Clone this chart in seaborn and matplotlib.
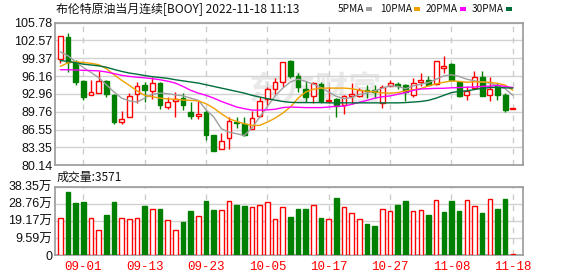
import numpy as np
import pandas as pd
import matplotlib
matplotlib.use("Agg")
import matplotlib.pyplot as plt
from matplotlib.patches import Rectangle
import seaborn as sns

# ---------------- data ----------------
dates = pd.bdate_range("2022-08-29", "2022-11-18").strftime("%m-%d").tolist()

opens = [99.22, 103.1, 98.62, 95.35, 92.84, 93.2, 95.35, 92.84, 87.83, 88.78,
         92.9, 94.57, 93.56, 94.87, 90.69, 91.65, 92.18, 89.68, 88.96, 89.68,
         85.51, 83.0, 85.03, 87.89, 87.6, 86.58, 89.08, 92.06, 93.85, 95.05,
         98.92, 96.24, 93.85, 92.66, 94.75, 91.71, 92.06, 90.99, 92.66, 92.66,
         93.68, 93.68, 91.35, 94.45, 94.75, 94.57, 92.84, 95.05, 95.52, 94.69,
         97.61, 98.33, 95.17, 92.78, 93.97, 95.94, 92.78, 94.45, 92.84, 90.28]
highs = [103.4, 103.81, 99.1, 95.52, 95.52, 97.13, 95.52, 92.96, 89.8, 93.14,
         95.17, 95.17, 95.94, 95.05, 92.36, 93.38, 93.14, 91.47, 91.77, 89.98,
         85.63, 85.98, 88.78, 88.78, 88.78, 89.8, 92.36, 94.15, 95.76, 98.74,
         99.04, 96.72, 95.35, 95.17, 95.17, 94.15, 92.18, 92.78, 94.87, 93.97,
         94.57, 94.57, 94.57, 95.46, 95.17, 94.75, 95.76, 96.66, 96.24, 98.92,
         99.7, 98.45, 95.35, 94.45, 97.02, 97.13, 95.94, 94.93, 93.14, 90.46]
lows = [98.5, 96.96, 94.57, 91.95, 92.84, 93.2, 92.36, 87.6, 87.47, 88.78,
        91.35, 91.47, 92.06, 90.16, 90.16, 88.78, 89.98, 88.49, 88.49, 84.61,
        82.64, 83.0, 83.0, 86.82, 85.39, 86.58, 88.9, 90.99, 92.96, 94.27,
        95.76, 93.38, 91.47, 91.35, 91.35, 91.35, 88.9, 89.38, 91.17, 92.36,
        92.18, 92.18, 90.4, 94.45, 93.85, 91.65, 92.48, 94.45, 94.57, 94.57,
        96.66, 95.35, 92.36, 91.95, 93.97, 92.54, 91.65, 91.95, 89.68, 90.16]
closes = [103.28, 98.74, 95.05, 92.36, 93.38, 95.35, 92.96, 87.89, 88.49, 92.54,
          94.33, 93.68, 94.87, 90.99, 91.59, 92.0, 90.99, 88.96, 89.44, 85.51,
          82.70, 84.43, 88.01, 87.71, 85.51, 88.67, 91.77, 93.85, 95.05, 98.62,
          96.24, 94.15, 92.36, 94.93, 91.65, 91.89, 90.87, 92.54, 92.96, 93.74,
          93.5, 93.26, 94.27, 94.87, 94.45, 93.26, 94.87, 95.52, 94.57, 98.92,
          98.03, 95.52, 92.66, 93.44, 95.94, 92.66, 93.85, 92.78, 89.98, 90.34]

volumes = [208000, 353000, 294000, 298000, 208000, 141000, 226000, 298000, 208000, 202000,
           208000, 276000, 257000, 259000, 197000, 138000, 187000, 248000, 219000, 303000,
           254000, 254000, 303000, 281000, 276000, 270000, 281000, 298000, 202000, 270000,
           215000, 259000, 259000, 281000, 209000, 202000, 320000, 270000, 237000, 202000,
           176000, 165000, 257000, 248000, 281000, 303000, 248000, 254000, 226000, 307000,
           243000, 303000, 248000, 309000, 276000, 237000, 312000, 259000, 314000, 3571]
vol_up = [1, 0, 0, 0, 1, 1, 0, 0, 1, 1, 1, 0, 1, 0, 1, 1, 0, 0, 1, 0,
          0, 1, 1, 0, 0, 1, 1, 1, 1, 1, 0, 0, 0, 1, 0, 1, 0, 1, 1, 1,
          0, 0, 1, 1, 0, 0, 1, 1, 0, 1, 0, 0, 0, 1, 1, 0, 1, 0, 0, 1]

ma5 = [100.5, 99.8, 98.7, 97.7, 96.8, 95.9, 94.6, 93.3, 92.2, 91.7,
       91.5, 92.2, 92.9, 93.1, 93.0, 92.8, 92.6, 92.2, 91.8, 90.1,
       88.8, 86.7, 86.1, 85.8, 85.5, 86.9, 88.8, 90.7, 92.6, 94.0,
       95.1, 95.6, 95.2, 94.7, 94.1, 93.3, 92.5, 92.1, 92.3, 92.9,
       93.1, 93.5, 94.0, 94.4, 94.3, 93.9, 94.4, 94.7, 95.0, 95.6,
       96.2, 96.4, 96.1, 95.6, 95.3, 95.1, 94.9, 94.4, 93.9, 92.7]
ma10 = [97.9, 98.55, 98.7, 98.6, 98.45, 98.2, 97.5, 96.4, 95.4, 94.5,
        93.5, 92.7, 92.45, 92.2, 92.05, 92.0, 91.85, 91.8, 91.7, 91.2,
        90.4, 89.4, 88.5, 88.0, 87.6, 87.3, 87.3, 87.9, 88.6, 89.5,
        90.6, 92.2, 93.3, 93.8, 94.0, 94.0, 94.0, 94.0, 93.9, 93.6,
        93.45, 93.3, 93.15, 93.1, 93.2, 93.5, 93.7, 93.9, 94.4, 94.75,
        95.05, 95.3, 95.2, 95.05, 95.15, 95.1, 95.05, 94.85, 94.55, 93.6]
ma20 = [97.3, 97.3, 97.25, 97.2, 97.15, 97.1, 96.9, 96.6, 96.3, 96.1,
        95.95, 95.85, 95.7, 95.5, 95.25, 94.9, 94.3, 93.6, 93.1, 92.7,
        92.2, 91.6, 91.1, 90.6, 90.3, 90.05, 90.05, 90.1, 90.2, 90.5,
        90.6, 90.55, 90.5, 90.5, 90.5, 90.6, 90.75, 90.75, 91.1, 91.45,
        91.8, 92.2, 92.45, 92.6, 92.9, 93.2, 93.6, 93.85, 93.9, 93.95,
        93.97, 94.05, 94.1, 94.15, 94.2, 94.3, 94.35, 94.5, 94.3, 94.1]
ma30 = [98.95, 98.8, 98.55, 98.3, 98.15, 98.0, 97.75, 97.35, 97.0, 96.7,
        96.5, 96.25, 96.05, 95.9, 95.75, 95.5, 95.3, 95.1, 94.9, 94.6,
        94.3, 94.0, 93.7, 93.4, 93.1, 92.7, 92.4, 92.1, 91.85, 91.6,
        91.45, 91.4, 91.4, 91.4, 91.4, 91.35, 91.35, 91.35, 91.35, 91.35,
        91.35, 91.35, 91.35, 91.35, 91.35, 91.4, 91.5, 91.6, 91.8, 92.2,
        92.7, 93.2, 93.4, 93.5, 93.75, 93.95, 94.1, 94.15, 94.05, 94.0]

price_ticks = [80.14, 83.35, 86.55, 89.76, 92.96, 96.16, 99.37, 102.57, 105.78]
vol_ticks = [0, 95900, 191700, 287600, 383500]
vol_tick_labels = ["0", "9.59万", "19.17万", "28.76万", "38.35万"]
date_ticks = ["09-01", "09-13", "09-23", "10-05", "10-17", "10-27", "11-08", "11-18"]
ma_names = ["5PMA", "10PMA", "20PMA", "30PMA"]
ma_colors = ["#a0a0a0", "#f0a000", "#ff00ff", "#006e3c"]
title = "布伦特原油当月连续[BOOY] 2022-11-18 11:13"
vol_title = "成交量:3571"
watermark = "东方财富"

# ---------------- style ----------------
sns.set_theme(style="white")
plt.rcParams["font.family"] = ["Liberation Sans", "Noto Sans CJK SC", "DejaVu Sans"]

RED = "#ff0000"
GREEN = "#008000"
FRAME = "#9a9a9a"
GRID = "#d2d2d2"

W, H = 578, 276
fig = plt.figure(figsize=(W / 100, H / 100), dpi=100)
fig.patch.set_facecolor("white")

def fx(px):
    return px / W

def fy(py):
    return 1 - py / H

L, R = 54.5, 522.5
ax = fig.add_axes([fx(L), fy(165.3), fx(R - L), (165.3 - 22.5) / H])
axv = fig.add_axes([fx(L), fy(255), fx(R - L), (255 - 186.7) / H])

n = len(closes)
x = np.arange(n)
o = np.array(opens)
c = np.array(closes)
hi = np.array(highs)
lo = np.array(lows)
up = c >= o
xlim = (-0.76, 60.26)
tick_pos = [dates.index(d) for d in date_ticks]

# ---------------- price panel ----------------
ax.set_facecolor("white")
ax.text(0.557, 0.52, watermark, transform=ax.transAxes, ha="center", va="center",
        fontsize=24, color="#e9e9e9", fontweight="bold", family=["Noto Sans CJK SC"],
        zorder=0.5, style="italic")

wick_colors = [RED if u else GREEN for u in up]
ax.vlines(x, lo, hi, colors=wick_colors, linewidth=1.0, zorder=2)
body_bottom = np.minimum(o, c)
body_h = np.maximum(np.abs(c - o), 0.06)
ax.bar(x, body_h, bottom=body_bottom, width=0.62,
       facecolor=["white" if u else GREEN for u in up],
       edgecolor=wick_colors, linewidth=1.0, zorder=3)

ma_df = pd.DataFrame({
    "idx": np.tile(x, 4),
    "val": np.concatenate([ma5, ma10, ma20, ma30]),
    "ma": np.repeat(ma_names, n),
})
sns.lineplot(data=ma_df, x="idx", y="val", hue="ma", palette=dict(zip(ma_names, ma_colors)),
             linewidth=1.0, legend=False, ax=ax, zorder=4)

ax.set_xlim(*xlim)
ax.set_ylim(price_ticks[0], price_ticks[-1])
ax.set_yticks(price_ticks)
ax.set_yticklabels([f"{v:.2f}" for v in price_ticks], fontsize=9, color="#111111")
ax.set_xticks(tick_pos)
ax.set_xticklabels([])
ax.set_xlabel("")
ax.set_ylabel("")
ax.tick_params(axis="both", length=0, pad=1.5)
ax.grid(axis="y", color=GRID, linewidth=1.0, linestyle="-")
for p in tick_pos:
    ax.axvline(p, color="#cccccc", linewidth=1.0, linestyle=(0, (4, 4)), zorder=1)
ax.set_axisbelow(True)
for s in ax.spines.values():
    s.set_color(FRAME)
    s.set_linewidth(1.2)

# ---------------- volume panel ----------------
vcol = [RED if u else GREEN for u in vol_up]
axv.bar(x, volumes, width=0.6, facecolor=["white" if u else GREEN for u in vol_up],
        edgecolor=vcol, linewidth=1.0, zorder=3)
axv.set_xlim(*xlim)
axv.set_ylim(0, vol_ticks[-1])
axv.set_yticks(vol_ticks)
axv.set_yticklabels(vol_tick_labels, fontsize=9, color="#111111")
axv.set_xticks(tick_pos)
axv.set_xticklabels(date_ticks, fontsize=9, color=RED, family=["Liberation Mono", "DejaVu Sans Mono"])
axv.tick_params(axis="both", length=0, pad=1.5)
axv.tick_params(axis="x", pad=4)
axv.grid(axis="y", color=GRID, linewidth=1.0, linestyle="-")
for p in tick_pos:
    axv.axvline(p, color="#cccccc", linewidth=1.0, linestyle=(0, (4, 4)), zorder=1)
axv.set_axisbelow(True)
for s in axv.spines.values():
    s.set_color(FRAME)
    s.set_linewidth(1.2)

# ---------------- texts ----------------
fig.text(fx(56), fy(9.5), title, fontsize=8.6, va="center", ha="left",
         family=["Noto Sans CJK SC", "DejaVu Sans"], color="#111111")
fig.text(fx(57), fy(177), vol_title, fontsize=8.6, va="center", ha="left",
         family=["Noto Sans CJK SC", "DejaVu Sans"], color="#111111")

leg_text_x = [338, 380, 426, 472]
leg_box_x = [366, 414, 460, 506]
for name, col, tx, bx in zip(ma_names, ma_colors, leg_text_x, leg_box_x):
    fig.text(fx(tx), fy(9.5), name, fontsize=7.3, va="center", ha="left",
             family=["Noto Sans CJK SC", "DejaVu Sans"], color="#111111")
    fig.add_artist(Rectangle((fx(bx), fy(10.5)), 6 / W, 3.5 / H, transform=fig.transFigure,
                             facecolor=col, edgecolor="none"))

fig.savefig("out.png", dpi=100, facecolor="white")
